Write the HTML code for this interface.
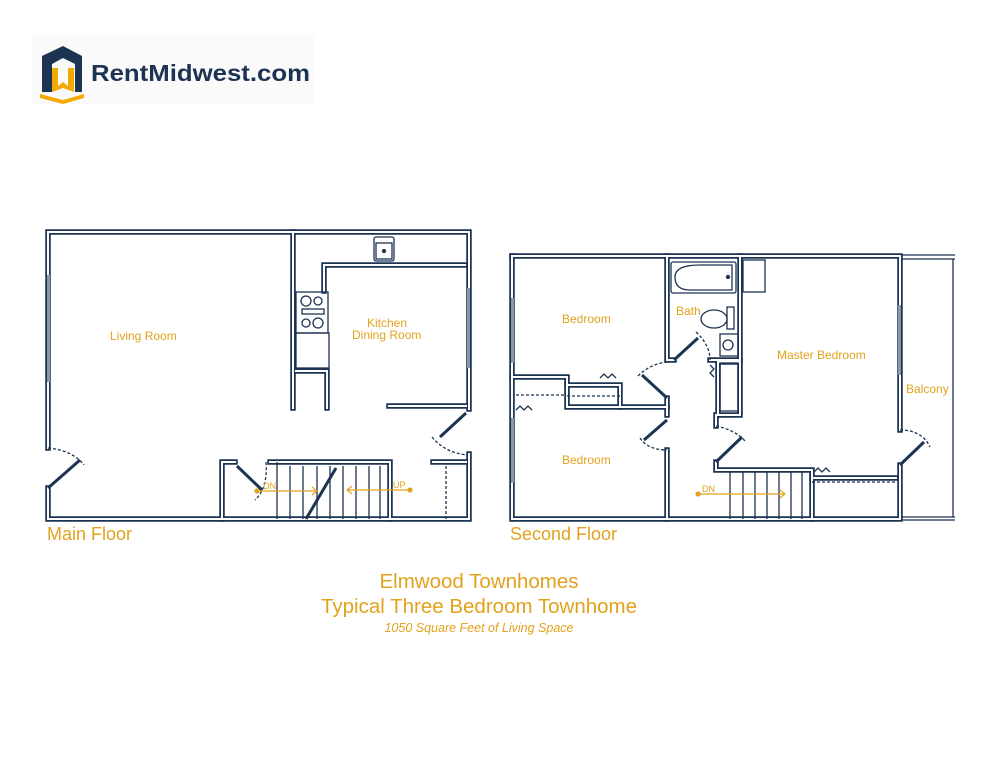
<!DOCTYPE html>
<html><head><meta charset="utf-8"><style>
html,body{margin:0;padding:0;background:#fff;width:994px;height:768px;overflow:hidden}
svg{display:block}
.t{font-family:"Liberation Sans",sans-serif;fill:#e2a21c}
</style></head><body>
<svg width="994" height="768" viewBox="0 0 994 768" xmlns="http://www.w3.org/2000/svg">
<rect x="32" y="36" width="282" height="68" fill="#fafafa"/>
<!-- logo -->
<path d="M42 56 L42 92 L52 92 L52 64 L63 58 L75 64 L75 92 L82 92 L82 56 L63 46 Z" fill="#1c3352"/>
<path d="M52 68 L58 68 L58 86 L63 82 L68 86 L68 68 L74 68 L74 92 L63 88 L52 92 Z" fill="#f2a900"/>
<path d="M40 94 L63 100 L84 94 L84 98 L63 104 L40 98 Z" fill="#f2a900"/>
<text x="91" y="81" font-family="Liberation Sans,sans-serif" font-size="23" font-weight="bold" fill="#1c3352" textLength="219" lengthAdjust="spacingAndGlyphs">RentMidwest.com</text>

<defs>
<g id="walls">
<path d="M48 448 L48 232 L469 232 L469 409"/>
<path d="M469 454 L469 519 L48 519 L48 488"/>
<path d="M293 232 L293 408"/>
<path d="M324 291 L324 265 L465 265"/>
<path d="M296 371 L327 371 L327 408"/>
<path d="M389 406 L466 406"/>
<path d="M222 519 L222 462 L235 462"/>
<path d="M270 462 L390 462 L390 519"/>
<path d="M433 462 L466 462"/>
<path d="M512 256 L900 256 L900 430"/>
<path d="M900 465 L900 519 L512 519 L512 256"/>
<path d="M667 256 L667 360 L674 360"/>
<path d="M710 360 L740 360 L740 256"/>
<path d="M740 360 L740 415 L716 415 L716 426"/>
<path d="M716 462 L716 470 L812 470 L812 519"/>
<path d="M812 478 L896 478"/>
<path d="M512 377 L567 377 L567 407 L667 407 L667 415"/>
<path d="M567 385 L620 385 L620 407"/>
<path d="M667 450 L667 519"/>
<path d="M667 398 L667 407"/>
<path d="M720 362 L740 362"/>
<path d="M718 362 L718 415"/>
</g>
</defs>
<g fill="none" stroke-linecap="square">
<use href="#walls" stroke="#1c3352" stroke-width="5.5"/>
<use href="#walls" stroke="#fff" stroke-width="2"/>
</g>
<g fill="none" stroke="#1c3352" stroke-width="1.3">
<rect x="47" y="275" width="3" height="107" fill="#8896a6" stroke="none"/>
<rect x="467" y="288" width="3" height="80" fill="#8896a6" stroke="none"/>
<rect x="511" y="298" width="3" height="65" fill="#8896a6" stroke="none"/>
<rect x="511" y="418" width="3" height="65" fill="#8896a6" stroke="none"/>
<rect x="898" y="305" width="3" height="70" fill="#8896a6" stroke="none"/>
<path d="M902 255 H955 M902 259 H955 M953 259 V517 M902 517 H955 M902 520 H955"/>
<rect x="374" y="237" width="20" height="24" rx="2"/><rect x="376" y="243" width="16" height="16"/>
<circle cx="384" cy="251" r="1.5" fill="#1c3352"/>
<rect x="296" y="292" width="32" height="41"/>
<circle cx="306" cy="301" r="5"/><circle cx="318" cy="301" r="4"/>
<circle cx="306" cy="323" r="4"/><circle cx="318" cy="323" r="5"/>
<rect x="302" y="309" width="22" height="5"/>
<rect x="296" y="333" width="33" height="35"/>
<path d="M277 462 V519 M290 466 V519 M303 466 V519 M317 466 V519 M330 466 V519 M343 466 V519 M356 466 V519 M369 466 V519 M380 466 V519"/>
<path d="M306 519 L336 468" stroke-width="3"/>
<path d="M446 466 V519" stroke-dasharray="3 2"/>
<path d="M48 488 L80 460" stroke-width="3"/>
<path d="M48 448 Q72 450 84 465" stroke-dasharray="3 2"/>
<path d="M466 413 L440 437" stroke-width="3"/>
<path d="M432 437 Q445 453 468 455" stroke-dasharray="3 2"/>
<path d="M237 466 L262 490" stroke-width="3"/>
<path d="M266 462 Q268 488 255 500" stroke-dasharray="3 2"/>
<rect x="671" y="262" width="65" height="31" rx="2"/>
<path d="M700 265 H732 V290 H690 Q675 290 675 277 Q675 265 700 265Z"/>
<circle cx="728" cy="277" r="1.5" fill="#1c3352"/>
<rect x="743" y="260" width="22" height="32"/>
<ellipse cx="714" cy="319" rx="13" ry="9"/><rect x="727" y="307" width="7" height="22"/>
<rect x="720" y="334" width="18" height="22"/><circle cx="728" cy="345" r="5"/>
<rect x="720" y="363" width="18" height="48"/>
<path d="M674 360 L698 338" stroke-width="3"/>
<path d="M696 332 Q710 345 710 360" stroke-dasharray="3 2"/>
<path d="M667 398 L642 375" stroke-width="3"/>
<path d="M638 376 Q650 364 667 362" stroke-dasharray="3 2"/>
<path d="M667 420 L644 440" stroke-width="3"/>
<path d="M640 438 Q648 450 667 450" stroke-dasharray="3 2"/>
<path d="M716 462 L742 437" stroke-width="3"/>
<path d="M716 426 Q735 430 745 441" stroke-dasharray="3 2"/>
<path d="M900 465 L924 442" stroke-width="3"/>
<path d="M900 430 Q922 430 930 447" stroke-dasharray="3 2"/>
<path d="M730 472 V519 M743 472 V519 M755 472 V519 M767 472 V519 M779 472 V519 M791 472 V519 M802 472 V519"/>
<path d="M567 396 H620 M516 395 H564 M812 482 H896" stroke-dasharray="3 2"/>
<path d="M600 378 l4 -4 l4 4 l4 -4 l4 4 M516 410 l4 -4 l4 4 l4 -4 l4 4 M814 472 l4 -4 l4 4 l4 -4 l4 4 M710 365 l4 4 l-4 4 l4 4"/>
</g>
<g stroke="#e2a21c" fill="#e2a21c" stroke-width="1.2">
<line x1="257" y1="491" x2="316" y2="491"/><circle cx="257" cy="491" r="2"/>
<path d="M312 487 L317 491 L312 495" fill="none"/>
<line x1="348" y1="490" x2="410" y2="490"/><circle cx="410" cy="490" r="2"/>
<path d="M352 486 L347 490 L352 494" fill="none"/>
<line x1="698" y1="494" x2="784" y2="494"/><circle cx="698" cy="494" r="2"/>
<path d="M780 490 L785 494 L780 498" fill="none"/>
</g>
<text class="t" x="263" y="489" font-size="9">DN</text>
<text class="t" x="393" y="488" font-size="9">UP</text>
<text class="t" x="702" y="492" font-size="9">DN</text>
<g class="t" font-size="12">
<text x="110" y="340">Living Room</text>
<text x="367" y="327">Kitchen</text>
<text x="352" y="339">Dining Room</text>
<text x="562" y="323">Bedroom</text>
<text x="562" y="464">Bedroom</text>
<text x="676" y="315">Bath</text>
<text x="777" y="359">Master Bedroom</text>
<text x="906" y="393">Balcony</text>
</g>
<text class="t" x="47" y="540" font-size="18">Main Floor</text>
<text class="t" x="510" y="540" font-size="18">Second Floor</text>
<text class="t" x="479" y="588" font-size="20.5" text-anchor="middle">Elmwood Townhomes</text>
<text class="t" x="479" y="613" font-size="20.5" text-anchor="middle">Typical Three Bedroom Townhome</text>
<text class="t" x="479" y="632" font-size="12.5" font-style="italic" text-anchor="middle">1050 Square Feet of Living Space</text>
</svg>
</body></html>
